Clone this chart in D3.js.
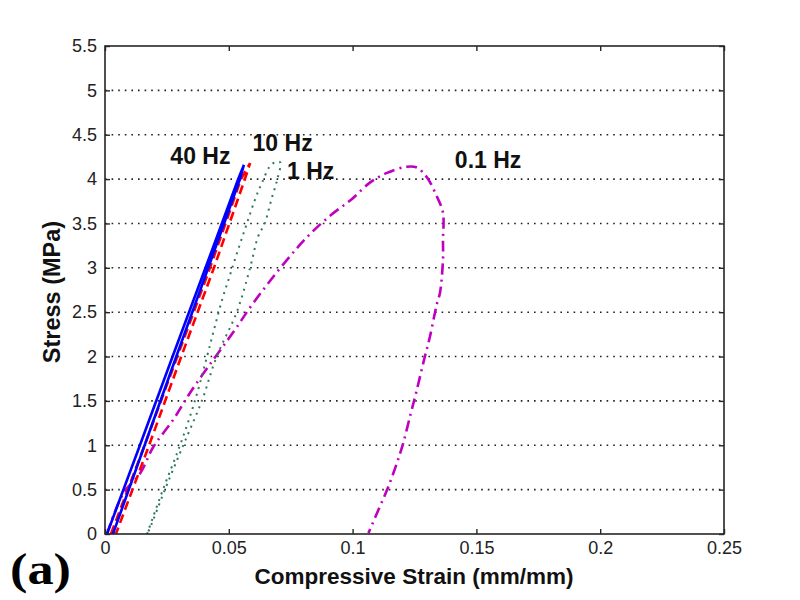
<!DOCTYPE html>
<html>
<head>
<meta charset="utf-8">
<script src="https://cdn.jsdelivr.net/npm/d3@7"></script>
<style>
  html, body { margin: 0; padding: 0; background: #fff; }
  svg { display: block; }
</style>
</head>
<body>
<svg id="chart" width="800" height="600"></svg>
<script>
// ---------- data ----------
const xTickValues = [0, 0.05, 0.1, 0.15, 0.2, 0.25];
const xTickLabels = ["0", "0.05", "0.1", "0.15", "0.2", "0.25"];
const yTickValues = [0, 0.5, 1, 1.5, 2, 2.5, 3, 3.5, 4, 4.5, 5, 5.5];
const yTickLabels = ["0", "0.5", "1", "1.5", "2", "2.5", "3", "3.5", "4", "4.5", "5", "5.5"];

const seriesNames = ["40 Hz", "10 Hz", "1 Hz", "0.1 Hz"];

// 40 Hz (loading + unloading loop)
const strain40 = [0.0008, 0.0141, 0.0273, 0.0406, 0.0538, 0.0561, 0.0545, 0.0417, 0.0288, 0.0160, 0.0032];
const stress40 = [0, 1, 2, 3, 4, 4.16, 4, 3, 2, 1, 0];

// 10 Hz
const strain10 = [0.0024, 0.0160, 0.0292, 0.0424, 0.0549, 0.0586, 0.0565, 0.0440, 0.0308, 0.0178, 0.0044];
const stress10 = [0, 1, 2, 3, 4, 4.18, 4, 3, 2, 1, 0];

// 1 Hz
const strain1 = [0.017, 0.0234, 0.0303, 0.0363, 0.0412, 0.044, 0.0473, 0.0505, 0.0537, 0.0573, 0.0606, 0.0634, 0.0674, 0.0707,
                 0.0695, 0.0672, 0.0645, 0.0618, 0.0586, 0.0532, 0.0451, 0.0391, 0.0316, 0.0242, 0.0182, 0.017];
const stress1 = [0, 0.5, 1.0, 1.5, 2.0, 2.3, 2.64, 2.92, 3.2, 3.5, 3.77, 3.96, 4.17, 4.19,
                 3.99, 3.77, 3.5, 3.35, 3.0, 2.5, 2.0, 1.5, 1.0, 0.5, 0.07, 0];

// 0.1 Hz
const strain01 = [0.0008, 0.0074, 0.0141, 0.0195, 0.0276, 0.0343, 0.0436, 0.0517, 0.0598, 0.0735, 0.0828, 0.0915, 0.0995,
                  0.107, 0.1139, 0.122, 0.126, 0.130, 0.1341, 0.1365, 0.1365, 0.1365, 0.1353, 0.1341, 0.1333, 0.1312,
                  0.1290, 0.1259, 0.1235, 0.1203, 0.1174, 0.1141, 0.1104, 0.1064];
const stress01 = [0, 0.46, 0.68, 0.98, 1.29, 1.59, 1.96, 2.27, 2.6, 3.09, 3.38, 3.60, 3.77,
                  3.96, 4.07, 4.14, 4.13, 4.02, 3.80, 3.62, 3.31, 3.09, 2.72, 2.60, 2.50, 2.22,
                  1.98, 1.62, 1.36, 1.01, 0.76, 0.51, 0.27, 0.01];

// ---------- chart ----------
const svg = d3.select("#chart");
const mLeft = 105, mRight = 724, mTop = 46, mBottom = 534;
const x = d3.scaleLinear().domain([0, 0.25]).range([mLeft, mRight]);
const y = d3.scaleLinear().domain([0, 5.5]).range([mBottom, mTop]);

const axisColor = "#262626";
const tickFont = "'Liberation Sans', Arial, sans-serif";

// grid lines (horizontal, dotted)
svg.append("g")
  .selectAll("line")
  .data(yTickValues.filter(v => v > 0 && v < 5.5))
  .join("line")
  .attr("x1", mLeft).attr("x2", mRight)
  .attr("y1", d => y(d)).attr("y2", d => y(d))
  .attr("stroke", "#222")
  .attr("stroke-width", 1.6)
  .attr("stroke-dasharray", "1.6,5");

// curves
const line = d3.line().x(d => x(d[0])).y(d => y(d[1]));
const smooth = d3.line().x(d => x(d[0])).y(d => y(d[1])).curve(d3.curveCatmullRom.alpha(0.5));
const zip = (a, b) => a.map((v, i) => [v, b[i]]);

const g = svg.append("g");
g.append("path").datum(zip(strain01, stress01))
  .attr("d", smooth).attr("fill", "none")
  .attr("stroke", "#c000c0").attr("stroke-width", 2.6)
  .attr("stroke-dasharray", "11,5,2,5");
g.append("path").datum(zip(strain1, stress1))
  .attr("d", smooth).attr("fill", "none")
  .attr("stroke", "#2f7a5c").attr("stroke-width", 2)
  .attr("stroke-dasharray", "2,5");
g.append("path").datum(zip(strain10, stress10))
  .attr("d", line).attr("fill", "none")
  .attr("stroke", "#ff0000").attr("stroke-width", 2.6)
  .attr("stroke-dasharray", "9,5");
g.append("path").datum(zip(strain40, stress40))
  .attr("d", line).attr("fill", "none")
  .attr("stroke", "#0000ff").attr("stroke-width", 2.6);

// frame
svg.append("rect")
  .attr("x", mLeft).attr("y", mTop)
  .attr("width", mRight - mLeft).attr("height", mBottom - mTop)
  .attr("fill", "none").attr("stroke", axisColor).attr("stroke-width", 1.6);

// axes
function styleAxis(sel) {
  sel.select(".domain").remove();
  sel.selectAll(".tick line").attr("stroke", axisColor).attr("stroke-width", 1.4);
  sel.selectAll(".tick text").attr("fill", "#222")
    .style("font-family", tickFont).style("font-size", "18px");
}
svg.append("g").attr("transform", `translate(0,${mBottom})`)
  .call(d3.axisBottom(x).tickValues(xTickValues).tickSize(-5).tickPadding(7)
        .tickFormat((d, i) => xTickLabels[i]))
  .call(styleAxis);
svg.append("g").attr("transform", `translate(${mLeft},0)`)
  .call(d3.axisLeft(y).tickValues(yTickValues).tickSize(-5).tickPadding(8)
        .tickFormat((d, i) => yTickLabels[i]))
  .call(styleAxis);
svg.append("g").attr("transform", `translate(0,${mTop})`)
  .call(d3.axisTop(x).tickValues(xTickValues).tickSize(-5).tickFormat(() => ""))
  .call(styleAxis);
svg.append("g").attr("transform", `translate(${mRight},0)`)
  .call(d3.axisRight(y).tickValues(yTickValues).tickSize(-5).tickFormat(() => ""))
  .call(styleAxis);

// axis titles
svg.append("text")
  .attr("x", 414).attr("y", 584)
  .attr("text-anchor", "middle")
  .style("font-family", tickFont).style("font-size", "22.5px").style("font-weight", "bold")
  .attr("fill", "#111")
  .text("Compressive Strain (mm/mm)");
svg.append("text")
  .attr("transform", `translate(60,292) rotate(-90)`)
  .attr("text-anchor", "middle")
  .style("font-family", tickFont).style("font-size", "23.5px").style("font-weight", "bold")
  .attr("fill", "#111")
  .text("Stress (MPa)");

// panel label
svg.append("text")
  .attr("x", 10).attr("y", 584)
  .attr("textLength", 61).attr("lengthAdjust", "spacingAndGlyphs")
  .style("font-family", "'Liberation Serif', 'Times New Roman', serif")
  .style("font-size", "44px").style("font-weight", "bold")
  .attr("fill", "#000")
  .text("(a)");

// series labels (anchored in data coordinates)
const labelAnchors = [[0.0264, 4.17], [0.0596, 4.32], [0.0735, 4.0], [0.1413, 4.13]];
svg.append("g").selectAll("text")
  .data(seriesNames)
  .join("text")
  .attr("x", (d, i) => x(labelAnchors[i][0]))
  .attr("y", (d, i) => y(labelAnchors[i][1]))
  .style("font-family", tickFont).style("font-size", "23px").style("font-weight", "bold")
  .attr("fill", "#111")
  .text(d => d);
</script>
</body>
</html>
